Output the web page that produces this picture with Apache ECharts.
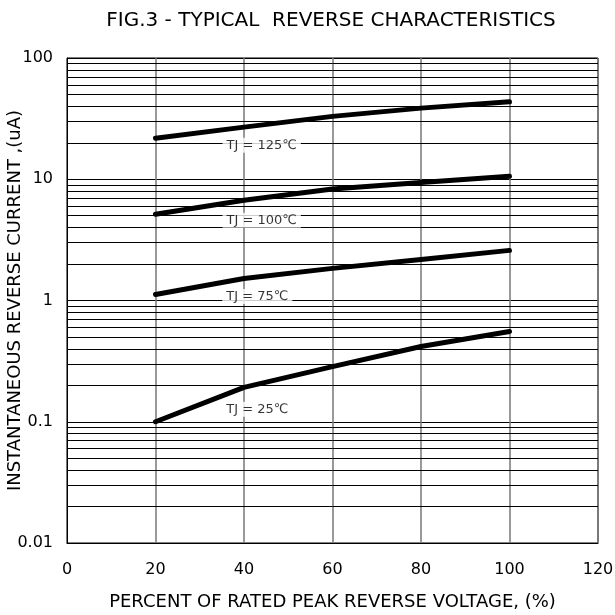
<!DOCTYPE html>
<html><head><meta charset="utf-8">
<script src="https://cdn.jsdelivr.net/npm/echarts@6/dist/echarts.min.js"></script>
<style>html,body{margin:0;padding:0;background:#fff}#c{width:615px;height:615px}</style>
</head><body><div id="c"></div>
<script>
const xValues = [20, 40, 60, 80, 100];
const tj125 = [21.8, 26.9, 33, 38.6, 43.5];
const tj100 = [5.14, 6.7, 8.3, 9.4, 10.6];
const tj75 = [1.12, 1.52, 1.84, 2.18, 2.59];
const tj25 = [0.1, 0.192, 0.285, 0.417, 0.555];
const labelNames = ['TJ = 125\u2103', 'TJ = 100\u2103', 'TJ = 75\u2103', 'TJ = 25\u2103'];
const labelX = [44, 44, 43, 43];
const labelY = [19.1, 4.58, 1.08, 0.127];
const decades = [0.01, 0.1, 1, 10];
const multiples = [2, 3, 4, 5, 6, 7, 8, 9];

const minorLines = [];
decades.forEach(d => multiples.forEach(m => minorLines.push({yAxis: +(d * m).toPrecision(3)})));

const font = '"DejaVu Sans", sans-serif';
const lineSeries = (data) => ({
  type: 'line', data: xValues.map((x, i) => [x, data[i]]),
  showSymbol: false, symbol: 'none', smooth: false,
  lineStyle: {color: '#000', width: 5, cap: 'round', join: 'round'}, z: 5
});

const chart = echarts.init(document.getElementById('c'));
chart.setOption({
  animation: false,
  backgroundColor: '#fff',
  title: {text: 'FIG.3 - TYPICAL  REVERSE CHARACTERISTICS', left: 326, top: 6, textAlign: 'center',
    textStyle: {fontFamily: font, fontWeight: 'normal', fontSize: 20, color: '#000'}},
  grid: {left: 67, right: 17, top: 58, bottom: 72, outerBoundsMode: 'none', containLabel: false,
    show: true, borderColor: '#000', borderWidth: 1},
  xAxis: {type: 'value', min: 0, max: 120, interval: 20,
    name: 'PERCENT OF RATED PEAK REVERSE VOLTAGE, (%)', nameLocation: 'middle', nameGap: 50,
    nameMoveOverlap: false,
    nameTextStyle: {fontFamily: font, fontSize: 18, color: '#000'},
    axisLine: {show: true, lineStyle: {color: '#000', width: 1}}, axisTick: {show: false},
    axisLabel: {fontFamily: font, fontSize: 16, color: '#000', margin: 19},
    splitLine: {show: true, lineStyle: {color: '#777', width: 1.5}}},
  yAxis: {type: 'log', logBase: 10, min: 0.01, max: 100,
    name: 'INSTANTANEOUS REVERSE CURRENT ,(uA)', nameLocation: 'middle', nameGap: 43,
    nameMoveOverlap: false,
    nameTextStyle: {fontFamily: font, fontSize: 18, color: '#000'},
    axisLine: {show: true, lineStyle: {color: '#000', width: 1}}, axisTick: {show: false},
    axisLabel: {fontFamily: font, fontSize: 16, color: '#000', margin: 14},
    splitLine: {show: true, lineStyle: {color: '#000', width: 1}}},
  series: [
    {type: 'line', data: [], markLine: {silent: true, symbol: 'none', label: {show: false},
      lineStyle: {color: '#000', width: 1, type: 'solid'}, data: minorLines}, z: 1},
    lineSeries(tj125), lineSeries(tj100), lineSeries(tj75), lineSeries(tj25),
    {type: 'scatter', symbolSize: 0, z: 10,
      data: labelNames.map((n, i) => ({value: [labelX[i], labelY[i]], name: n})),
      label: {show: true, position: 'inside', formatter: p => p.name, fontFamily: font, fontSize: 13,
        color: '#000', backgroundColor: '#fff', padding: [1, 4]}}
  ]
});
</script></body></html>
